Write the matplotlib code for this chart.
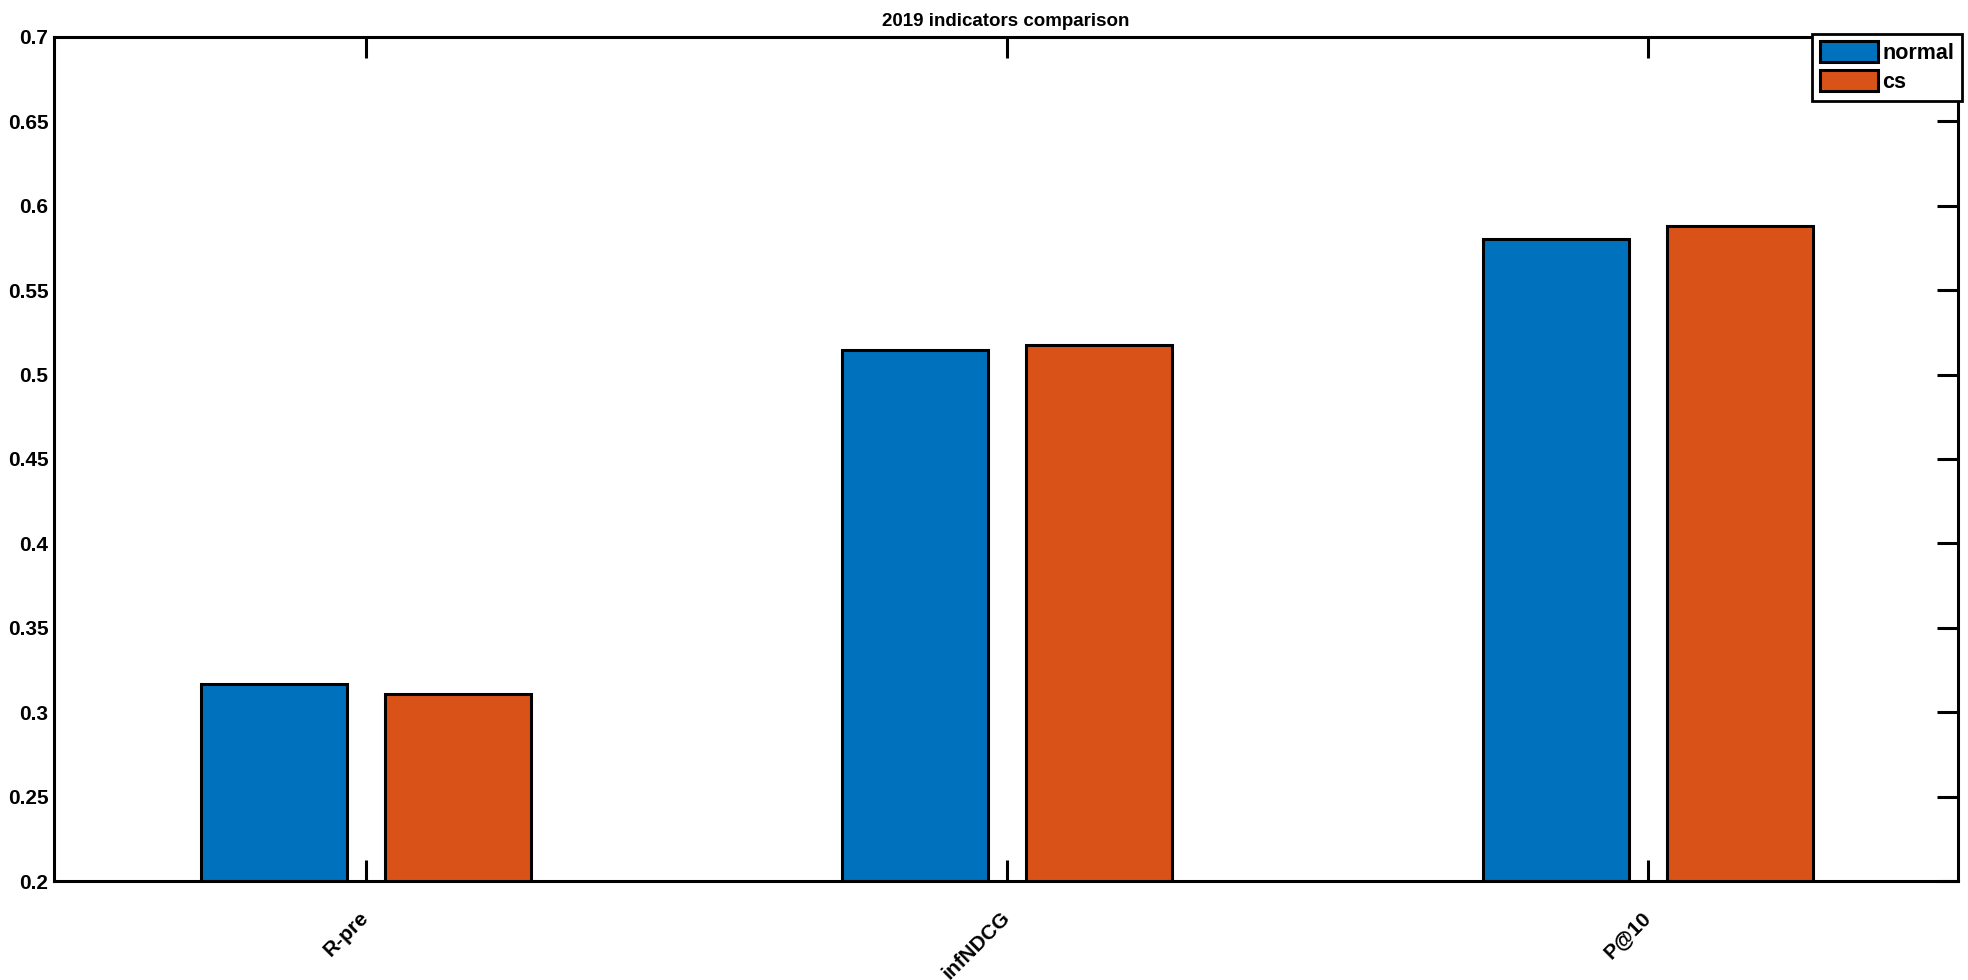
import numpy as np
import matplotlib
matplotlib.use('Agg')
import matplotlib.pyplot as plt

# Data
categories = ['R-pre', 'infNDCG', 'P@10']
normal = [0.3167, 0.5146, 0.5801]
cs = [0.3106, 0.5175, 0.5880]
series_names = ['normal', 'cs']
yticks = [0.2, 0.25, 0.3, 0.35, 0.4, 0.45, 0.5, 0.55, 0.6, 0.65, 0.7]
ytick_labels = ['0.2', '0.25', '0.3', '0.35', '0.4', '0.45', '0.5', '0.55', '0.6', '0.65', '0.7']

plt.rcParams['font.family'] = ['Liberation Sans', 'DejaVu Sans']
plt.rcParams['font.weight'] = 'bold'

fig = plt.figure(figsize=(19.68, 9.8), dpi=100)
ax = fig.add_axes([54/1968, 1-881/980, 1904/1968, 844/980])

x = np.arange(1, len(categories)+1)
w = 0.228
off = 0.1435
ax.bar(x-off, normal, w, color='#0072BD', edgecolor='black', linewidth=2.2, label=series_names[0])
ax.bar(x+off, cs, w, color='#D95319', edgecolor='black', linewidth=2.2, label=series_names[1])

ax.set_xlim(0.513, 3.484)
ax.set_ylim(0.2, 0.7)
ax.set_yticks(yticks)
ax.set_yticklabels(ytick_labels)
ax.set_xticks(x)
ax.set_xticklabels(categories, rotation=45, ha='right', va='center', rotation_mode='anchor')

for s in ax.spines.values():
    s.set_linewidth(2.2)
ax.tick_params(axis='both', direction='in', length=15, width=2.2, labelsize=15,
               top=True, right=True)
ax.tick_params(axis='y', pad=4, left=False)
ax.tick_params(axis='x', pad=24)

ax.set_title('2019 indicators comparison', fontsize=13.5, fontweight='bold', pad=8)

leg = ax.legend(loc='upper right', bbox_to_anchor=(1.002, 1.004),
                prop={'size': 15.5, 'weight': 'bold'},
                frameon=True, fancybox=False, edgecolor='black', framealpha=1,
                handlelength=2.7, handleheight=1.07, handletextpad=0.2,
                labelspacing=0.3, borderpad=0.36, borderaxespad=0)
leg.get_frame().set_linewidth(2)

fig.savefig('out.png', dpi=100)
